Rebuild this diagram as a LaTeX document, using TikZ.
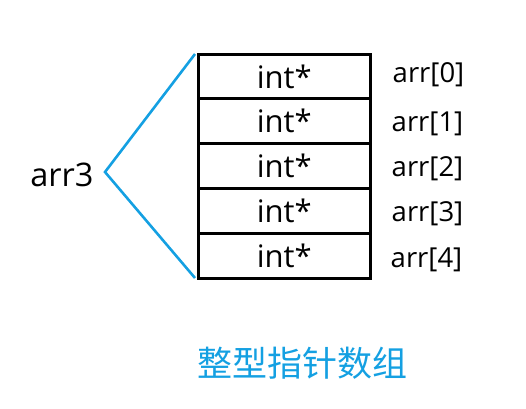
\documentclass[tikz,border=0pt]{standalone}
\usepackage{fontspec}
\setmainfont{Open Sans}
\newfontfamily\cjk{Noto Sans CJK SC}
\definecolor{lineblue}{RGB}{20,160,226}
\begin{document}
\begin{tikzpicture}[x=1pt,y=-1pt,
  cell/.style={draw=black,line width=3pt,minimum width=171.5pt,minimum height=44.8pt,inner sep=0pt,font=\fontsize{31}{31}\selectfont},
  idx/.style={inner sep=0pt,font=\fontsize{27.5}{27.5}\selectfont},
  brace/.style={draw=lineblue,line width=2.6pt,line join=miter}]
\useasboundingbox (0,0) rectangle (526,408);
\node[cell] (c0) at (284.25,76.4) {int*};
\node[cell] (c1) at (284.25,121.2) {int*};
\node[cell] (c2) at (284.25,166) {int*};
\node[cell] (c3) at (284.25,210.8) {int*};
\node[cell] (c4) at (284.25,255.6) {int*};
\node[idx] (a0) at (428.5,75) {arr[0]};
\node[idx] (a1) at (427.5,123.5) {arr[1]};
\node[idx] (a2) at (427.5,168.5) {arr[2]};
\node[idx] (a3) at (427.5,213.5) {arr[3]};
\node[idx] (a4) at (426.5,259.5) {arr[4]};
\node[inner sep=0pt,font=\fontsize{32.5}{32.5}\selectfont] (arr3) at (62,175) {arr3};
\coordinate (top) at (195,54);
\coordinate (apex) at (105,172);
\coordinate (bot) at (195,278);
\draw[brace] (top) -- (apex) -- (bot);
\node[inner sep=0pt,text=lineblue,font=\cjk\fontsize{35}{35}\selectfont] (title) at (302.5,363) {整型指针数组};
\end{tikzpicture}
\end{document}
